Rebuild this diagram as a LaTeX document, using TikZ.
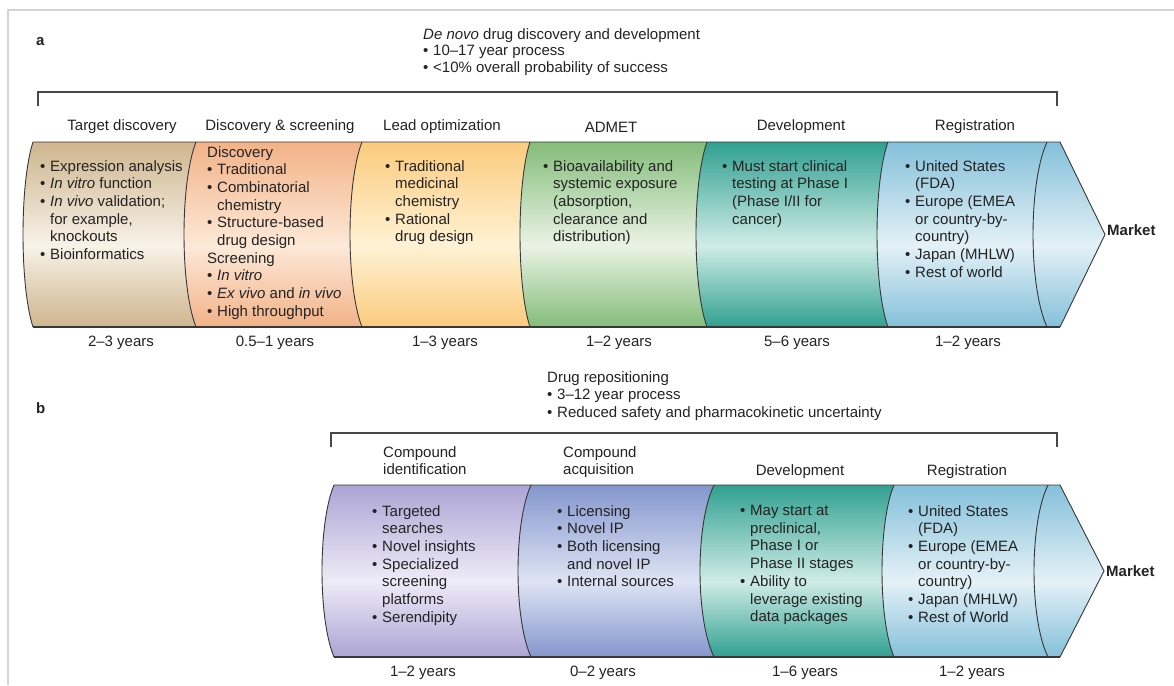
\documentclass[tikz,border=0pt]{standalone}
\usepackage{fontspec}
\setmainfont{Liberation Sans}
\definecolor{ink}{RGB}{35,35,35}
\definecolor{framec}{RGB}{212,212,212}
\definecolor{edgec}{RGB}{55,55,55}
\definecolor{tanD}{RGB}{206,181,142}  \definecolor{tanL}{RGB}{248,242,232}
\definecolor{peaD}{RGB}{242,178,135}  \definecolor{peaL}{RGB}{253,233,216}
\definecolor{yelD}{RGB}{251,203,125}  \definecolor{yelL}{RGB}{255,242,212}
\definecolor{grnD}{RGB}{132,188,122}  \definecolor{grnL}{RGB}{234,243,229}
\definecolor{tealD}{RGB}{48,160,144}  \definecolor{tealL}{RGB}{208,236,231}
\definecolor{bluD}{RGB}{132,192,218}  \definecolor{bluL}{RGB}{228,241,247}
\definecolor{lavD}{RGB}{172,164,212}  \definecolor{lavL}{RGB}{238,235,247}
\definecolor{perD}{RGB}{132,150,205}  \definecolor{perL}{RGB}{222,228,244}
\newcommand{\mkshade}[3]{\pgfdeclareverticalshading{#1}{100bp}{color(0bp)=(#2); color(25bp)=(#2); color(47bp)=(#3); color(75bp)=(#2); color(100bp)=(#2)}}
\mkshade{tanS}{tanD}{tanL}
\mkshade{peaS}{peaD}{peaL}
\mkshade{yelS}{yelD}{yelL}
\mkshade{grnS}{grnD}{grnL}
\mkshade{tealS}{tealD}{tealL}
\mkshade{bluS}{bluD}{bluL}
\mkshade{lavS}{lavD}{lavL}
\mkshade{perS}{perD}{perL}
% curve from (x,T) down to (x,B), bulging left by b
\newcommand{\crvdown}[4]{.. controls ({#1-1.333*#4},{#2+0.22*(#3-#2)}) and ({#1-1.333*#4},{#3-0.22*(#3-#2)}) .. (#1,#3)}
% curve from (x,B) up to (x,T)
\newcommand{\crvup}[4]{.. controls ({#1-1.333*#4},{#3-0.22*(#3-#2)}) and ({#1-1.333*#4},{#2+0.22*(#3-#2)}) .. (#1,#2)}
% segment: xl, bl, xr, br, T, B, shading
\newcommand{\seg}[7]{\shade[shading=#7] (#1,#5) -- (#3,#5) \crvdown{#3}{#5}{#6}{#4} -- (#1,#6) \crvup{#1}{#5}{#6}{#2} -- cycle;}
\newcommand{\bl}{\makebox[10pt][l]{•}}
\newcommand{\ind}{\hspace*{10pt}}
\tikzset{
  txt/.style={font=\fontsize{15}{17.7}\selectfont, text=ink, inner sep=0pt, align=left, anchor=north west},
  lbl/.style={font=\fontsize{15}{17.7}\selectfont, text=ink, inner sep=0pt},
  edge/.style={draw=edgec, line width=0.9pt},
  bedge/.style={draw=edgec, line width=1.4pt},
  brk/.style={draw=black!72, line width=1.4pt},
}
\begin{document}
\begin{tikzpicture}[x=1pt,y=-1pt]
\useasboundingbox (0,0) rectangle (1174,685);
\fill[white] (0,0) rectangle (1174,685);
\draw[framec, line width=1.5pt] (8,685) -- (8,10) -- (1174,10);

% ---------- section a ----------
\node[font=\fontsize{15}{17.7}\selectfont\bfseries, text=ink, inner sep=0pt, anchor=west] (la) at (36,42) {a};
\node[txt, font=\fontsize{15}{16.7}\selectfont] (titA) at (423,28) {\textit{De novo} drug discovery and development\\\bl 10–17 year process\\\bl <10\% overall probability of success};
\coordinate (ba1) at (38,106); \coordinate (ba2) at (38,92);
\coordinate (ba3) at (1057,92); \coordinate (ba4) at (1057,106);
\draw[brk] (ba1) -- (ba2) -- (ba3) -- (ba4);

\node[lbl] (hA1) at (122,127) {Target discovery};
\node[lbl] (hA2) at (280,127) {Discovery \& screening};
\node[lbl] (hA3) at (442,127) {Lead optimization};
\node[lbl] (hA4) at (611,127) {ADMET};
\node[lbl] (hA5) at (801,127) {Development};
\node[lbl] (hA6) at (975,127) {Registration};

\seg{33}{10}{196}{12}{142}{327}{tanS}
\seg{196}{12}{362}{12}{142}{327}{peaS}
\seg{362}{12}{530}{10}{142}{327}{yelS}
\seg{530}{10}{707}{11}{142}{327}{grnS}
\seg{707}{11}{888}{11}{142}{327}{tealS}
\seg{888}{11}{1047}{14}{142}{327}{bluS}
\shade[shading=bluS] (1047,142) -- (1060,142) -- (1105,234.5) -- (1060,327) -- (1047,327) \crvup{1047}{142}{327}{14} -- cycle;
\draw[edge] (33,142) -- (1060,142) -- (1105,234.5) -- (1060,327);
\draw[bedge] (1060,327) -- (33,327);
\draw[edge] (33,142) \crvdown{33}{142}{327}{10};
\foreach \xx/\bb in {196/12,362/12,530/10,707/11,888/11,1047/14}
  \draw[edge] (\xx,142) \crvdown{\xx}{142}{327}{\bb};

\node[txt] (tA) at (40,160) {\bl Expression analysis\\\bl \textit{In vitro} function\\\bl \textit{In vivo} validation;\\\ind for example,\\\ind knockouts\\\bl Bioinformatics};
\node[txt] (dA) at (207,146) {Discovery\\\bl Traditional\\\bl Combinatorial\\\ind chemistry\\\bl Structure-based\\\ind drug design\\Screening\\\bl \textit{In vitro}\\\bl \textit{Ex vivo} and \textit{in vivo}\\\bl High throughput};
\node[txt] (lA) at (385,160) {\bl Traditional\\\ind medicinal\\\ind chemistry\\\bl Rational\\\ind drug design};
\node[txt] (aA) at (543,160) {\bl Bioavailability and\\\ind systemic exposure\\\ind (absorption,\\\ind clearance and\\\ind distribution)};
\node[txt] (vA) at (722,160) {\bl Must start clinical\\\ind testing at Phase I\\\ind (Phase I/II for\\\ind cancer)};
\node[txt] (rA) at (905,160) {\bl United States\\\ind (FDA)\\\bl Europe (EMEA\\\ind or country-by-\\\ind country)\\\bl Japan (MHLW)\\\bl Rest of world};
\node[lbl, anchor=west, font=\fontsize{15}{17.7}\selectfont\bfseries] (mA) at (1107,230) {Market};

\node[lbl] (yA1) at (121,343) {2–3 years};
\node[lbl] (yA2) at (275,343) {0.5–1 years};
\node[lbl] (yA3) at (445,343) {1–3 years};
\node[lbl] (yA4) at (619,343) {1–2 years};
\node[lbl] (yA5) at (797,343) {5–6 years};
\node[lbl] (yA6) at (968,343) {1–2 years};

% ---------- section b ----------
\node[font=\fontsize{15}{17.7}\selectfont\bfseries, text=ink, inner sep=0pt, anchor=west] (lb) at (36,408) {b};
\node[txt] (titB) at (547,371) {Drug repositioning\\\bl 3–12 year process\\\bl Reduced safety and pharmacokinetic uncertainty};
\coordinate (bb1) at (331,447); \coordinate (bb2) at (331,433);
\coordinate (bb3) at (1057,433); \coordinate (bb4) at (1057,447);
\draw[brk] (bb1) -- (bb2) -- (bb3) -- (bb4);

\node[txt] (hB1) at (383,446) {Compound\\identification};
\node[txt] (hB2) at (563,446) {Compound\\acquisition};
\node[lbl] (hB3) at (800,472) {Development};
\node[lbl] (hB4) at (967,472) {Registration};

\seg{334}{12}{531}{13}{485}{657}{lavS}
\seg{531}{13}{714}{14}{485}{657}{perS}
\seg{714}{14}{894}{12}{485}{657}{tealS}
\seg{894}{12}{1048}{14}{485}{657}{bluS}
\shade[shading=bluS] (1048,485) -- (1060,485) -- (1104,571) -- (1060,657) -- (1048,657) \crvup{1048}{485}{657}{14} -- cycle;
\draw[edge] (334,485) -- (1060,485) -- (1104,571) -- (1060,657);
\draw[bedge] (1060,657) -- (334,657);
\draw[edge] (334,485) \crvdown{334}{485}{657}{12};
\foreach \xx/\bb in {531/13,714/14,894/12,1048/14}
  \draw[edge] (\xx,485) \crvdown{\xx}{485}{657}{\bb};

\node[txt] (iB) at (372,505) {\bl Targeted\\\ind searches\\\bl Novel insights\\\bl Specialized\\\ind screening\\\ind platforms\\\bl Serendipity};
\node[txt] (qB) at (557,505) {\bl Licensing\\\bl Novel IP\\\bl Both licensing\\\ind and novel IP\\\bl Internal sources};
\node[txt] (vB) at (740,505) {\bl May start at\\\ind preclinical,\\\ind Phase I or\\\ind Phase II stages\\\bl Ability to\\\ind leverage existing\\\ind data packages};
\node[txt] (rB) at (908,505) {\bl United States\\\ind (FDA)\\\bl Europe (EMEA\\\ind or country-by-\\\ind country)\\\bl Japan (MHLW)\\\bl Rest of World};
\node[lbl, anchor=west, font=\fontsize{15}{17.7}\selectfont\bfseries] (mB) at (1106,571) {Market};

\node[lbl] (yB1) at (423,673) {1–2 years};
\node[lbl] (yB2) at (603,673) {0–2 years};
\node[lbl] (yB3) at (805,673) {1–6 years};
\node[lbl] (yB4) at (972,673) {1–2 years};
\end{tikzpicture}
\end{document}
